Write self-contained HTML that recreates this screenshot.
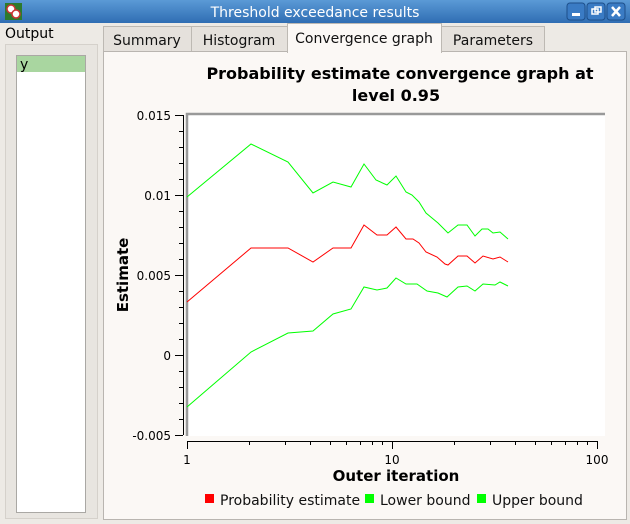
<!DOCTYPE html>
<html><head><meta charset="utf-8"><style>
html,body{margin:0;padding:0;width:630px;height:524px;overflow:hidden;background:#edeae5;font-family:"DejaVu Sans","Liberation Sans",sans-serif;}
svg{display:block}
</style></head><body>
<svg width="630" height="524" xmlns="http://www.w3.org/2000/svg" font-family="DejaVu Sans, Liberation Sans, sans-serif">
<defs>
<linearGradient id="tb" x1="0" y1="0" x2="0" y2="1">
<stop offset="0" stop-color="#5b9ad6"/><stop offset="1" stop-color="#2f6db3"/>
</linearGradient>
</defs>
<rect x="0" y="0" width="630" height="524" fill="#edeae5"/>
<!-- title bar -->
<rect x="0" y="0" width="630" height="23" fill="url(#tb)"/>
<rect x="5" y="3" width="17" height="17" fill="#2d7a2d"/>
<circle cx="11" cy="9" r="4" fill="#fff" stroke="#c33" stroke-width="1.5"/>
<circle cx="16" cy="14" r="4" fill="#fff" stroke="#c33" stroke-width="1.5"/>
<text x="315" y="17" text-anchor="middle" font-size="14" fill="#fff">Threshold exceedance results</text>
<g stroke="#1d4f8a" fill="#3a7bc4">
<rect x="567" y="3" width="18" height="17" rx="3"/><rect x="587" y="3" width="18" height="17" rx="3"/><rect x="607" y="3" width="18" height="17" rx="3"/>
</g>
<rect x="572" y="13" width="8" height="3" fill="#fff"/>
<rect x="592" y="9" width="6" height="5" fill="none" stroke="#fff" stroke-width="1.5"/>
<rect x="595" y="7" width="6" height="5" fill="none" stroke="#fff" stroke-width="1.5"/>
<path d="M612 7 L620 16 M620 7 L612 16" stroke="#fff" stroke-width="2.5"/>
<!-- left panel -->
<text x="5" y="38" font-size="14" fill="#000">Output</text>
<rect x="5.5" y="44.5" width="92" height="474" fill="#e8e5e0" stroke="#d5d1cb"/>
<rect x="16.5" y="55.5" width="69" height="457" fill="#fff" stroke="#aaa8a4"/>
<rect x="17" y="56" width="68" height="16" fill="#a9d6a0"/>
<text x="20" y="69" font-size="14" fill="#000">y</text>
<!-- tabs -->
<rect x="103.5" y="26.5" width="88" height="26" fill="#e5e1dc" stroke="#bdb9b3"/>
<rect x="191.5" y="26.5" width="96" height="26" fill="#e5e1dc" stroke="#bdb9b3"/>
<rect x="441.5" y="26.5" width="103" height="26" fill="#e5e1dc" stroke="#bdb9b3"/>
<rect x="103.5" y="51.5" width="523" height="468" fill="#fbf8f5" stroke="#b9b5b0"/>
<rect x="287.5" y="23.5" width="154" height="29" fill="#fbf8f5" stroke="#bdb9b3"/>
<rect x="288" y="50" width="153" height="4" fill="#fbf8f5"/>
<g font-size="14" fill="#111">
<text x="147" y="45" text-anchor="middle">Summary</text>
<text x="239" y="45" text-anchor="middle">Histogram</text>
<text x="364" y="43" text-anchor="middle">Convergence graph</text>
<text x="493" y="45" text-anchor="middle">Parameters</text>
</g>
<!-- title -->
<g font-size="16" font-weight="bold" fill="#000" text-anchor="middle">
<text x="400" y="79">Probability estimate convergence graph at</text>
<text x="396" y="101">level 0.95</text>
</g>
<!-- canvas -->
<rect x="187" y="114" width="418" height="322" fill="#fff"/>
<path d="M187 436 V114 H605" fill="none" stroke="#999" stroke-width="2.5"/>
<!-- y axis -->
<g stroke="#000" stroke-width="1">
<line x1="183.5" y1="115" x2="183.5" y2="435"/>
<line x1="175" y1="115.5" x2="183" y2="115.5"/><line x1="175" y1="195.5" x2="183" y2="195.5"/><line x1="175" y1="275.5" x2="183" y2="275.5"/><line x1="175" y1="355.5" x2="183" y2="355.5"/><line x1="175" y1="435.5" x2="183" y2="435.5"/>
<path d="M179 131.5h4M179 147.5h4M179 163.5h4M179 179.5h4M179 211.5h4M179 227.5h4M179 243.5h4M179 259.5h4M179 291.5h4M179 307.5h4M179 323.5h4M179 339.5h4M179 371.5h4M179 387.5h4M179 403.5h4M179 419.5h4"/>
<!-- x axis -->
<line x1="187" y1="441.5" x2="598" y2="441.5"/>
<path d="M187.5 441v8M392.5 441v8M597.5 441v8"/>
<path d="M249.5 441v4M285.5 441v4M310.5 441v4M330.5 441v4M346.5 441v4M360.5 441v4M372.5 441v4M382.5 441v4M454.5 441v4M490.5 441v4M515.5 441v4M535.5 441v4M551.5 441v4M565.5 441v4M577.5 441v4M587.5 441v4"/>
</g>
<g font-size="12" fill="#000" text-anchor="end">
<text x="171" y="120">0.015</text><text x="171" y="200">0.01</text><text x="171" y="280">0.005</text><text x="171" y="360">0</text><text x="171" y="440">-0.005</text>
</g>
<g font-size="12" fill="#000" text-anchor="middle">
<text x="187" y="464">1</text><text x="392" y="464">10</text><text x="597" y="464">100</text>
</g>
<text x="396" y="481" font-size="15" font-weight="bold" text-anchor="middle">Outer iteration</text>
<text transform="translate(128,275) rotate(-90)" font-size="15" font-weight="bold" text-anchor="middle">Estimate</text>
<!-- series -->
<g fill="none" stroke-width="1">
<polyline stroke="#00ff00" points="187,197 251,144 288,162 313,193 333,182 351,187 364,164 376,180 387,185 396,176 406,192 412,195 419,202 426,213 438,223 448,233 458,225 467,225 475,236 482,229 488,229 493,233 500,232 508,239"/>
<polyline stroke="#ff0000" points="187,302 251,248 288,248 313,262 333,248 351,248 364,225 377,235 387,235 396,227 406,239 413,239 419,243 426,252 437,257 445,264 448,265 458,256 467,256 475,263 483,256 493,259 500,257 508,262"/>
<polyline stroke="#00ff00" points="187,407 251,352 288,333 313,331 333,314 351,309 364,287 377,290 387,288 396,278 406,284 417,284 427,291 438,293 447,297 458,287 467,286 475,291 483,284 495,285 500,282 508,286"/>
</g>
<!-- legend -->
<rect x="205" y="494" width="9" height="9" fill="#f00"/>
<rect x="365" y="494" width="9" height="9" fill="#0f0"/>
<rect x="477" y="494" width="9" height="9" fill="#0f0"/>
<g font-size="14" fill="#111">
<text x="220" y="505">Probability estimate</text>
<text x="380" y="505">Lower bound</text>
<text x="492" y="505">Upper bound</text>
</g>
</svg>
</body></html>
